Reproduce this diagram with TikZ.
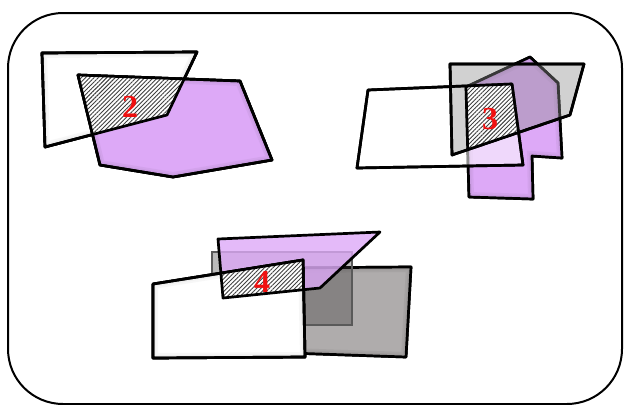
\documentclass[tikz,border=0pt]{standalone}
\usepackage{fontspec}
\usepackage{tikz}
\usetikzlibrary{patterns.meta}
\newfontfamily\numfont{Liberation Serif}
\definecolor{ovPurple}{HTML}{DDA9F7}
\definecolor{ovGray}{HTML}{AFACAC}
\definecolor{ovDark}{HTML}{3A3838}
\definecolor{ovRed}{HTML}{F01010}
\tikzset{
  ovframe/.style={draw, line width=2pt, rounded corners=55pt},
  ovshape/.style={draw, line width=2.7pt, line join=round},
  whitepane/.style={ovshape, fill=white},
  glasspane/.style={ovshape, fill=white, fill opacity=0.55},
  purplepane/.style={ovshape, fill=ovPurple},
  tintpane/.style={ovshape, fill=black!45, fill opacity=0.4},
  graypane/.style={ovshape, fill=ovGray},
  darkpane/.style={draw=black!65, line width=1.2pt, fill=ovDark, fill opacity=0.35},
  hatch/.style={pattern={Lines[angle=45, distance=3pt, line width=0.9pt]}, pattern color=black!75},
  overlap/.style={font=\numfont\bfseries\fontsize{32}{32}\selectfont, text=ovRed, inner sep=0pt}
}
% soft inner edge of a pane, outline drawn again on top
\newcommand{\ovbevel}[2]{%
  \begin{scope}
    \clip #1;
    \draw[line width=10pt, #2, opacity=0.5] #1;
    \draw[line width=6pt, #2] #1;
  \end{scope}
  \draw[ovshape] #1;}
\begin{document}
\begin{tikzpicture}[x=1pt, y=-1pt]
  \useasboundingbox (0,0) rectangle (625,405);
  \draw[ovframe] (8,13) rectangle (622,404);

  % overlap 2
  \def\whiteA{(42,53) -- (197,52) -- (167,115) -- (45,147) -- cycle}
  \def\purpleA{(78,75) -- (240,81) -- (272,160) -- (173,177) -- (100,165) -- cycle}
  \path[whitepane] \whiteA;
  \ovbevel{\whiteA}{black!6}
  \path[purplepane] \purpleA;
  \ovbevel{\purpleA}{ovPurple!92!black}
  \begin{scope}
    \clip \whiteA;
    \fill[white] \purpleA;
    \fill[hatch] \purpleA;
  \end{scope}
  \draw[ovshape] \whiteA;
  \draw[ovshape] \purpleA;
  \node[overlap] (lblTwo) at (130,107) {2};

  % overlap 3
  \def\whiteB{(368,90) -- (512,84) -- (523,165) -- (357,168) -- cycle}
  \def\grayB{(450,64) -- (584,64) -- (570,115) -- (452,155) -- cycle}
  \def\purpleB{(466,87) -- (530,57) -- (558,83) -- (562,158) -- (532,156) -- (533,199) -- (469,197) -- cycle}
  \path[purplepane] \purpleB;
  \ovbevel{\purpleB}{ovPurple!92!black}
  \path[glasspane] \whiteB;
  \path[tintpane] \grayB;
  \begin{scope}
    \clip \whiteB;
    \clip \grayB;
    \fill[white] \purpleB;
    \fill[hatch] \purpleB;
    \draw[ovshape] \purpleB;
  \end{scope}
  \draw[ovshape] \whiteB;
  \draw[ovshape] \grayB;
  \node[overlap] (lblThree) at (490,119) {3};

  % overlap 4
  \def\grayC{(280,268) -- (411,267) -- (406,357) -- (290,353) -- cycle}
  \def\darkC{(212,252) -- (352,252) -- (352,325) -- (212,325) -- cycle}
  \def\purpleC{(218,239) -- (380,232) -- (320,288) -- (223,298) -- cycle}
  \def\whiteC{(153,284) -- (303,260) -- (305,357) -- (153,358) -- cycle}
  \path[graypane] \grayC;
  \ovbevel{\grayC}{ovGray!90!black}
  \path[darkpane] \darkC;
  \path[purplepane, fill opacity=0.8] \purpleC;
  \path[whitepane] \whiteC;
  \ovbevel{\whiteC}{black!6}
  \begin{scope}
    \clip \whiteC;
    \fill[white] \purpleC;
    \fill[hatch] \purpleC;
    \draw[ovshape] \purpleC;
  \end{scope}
  \draw[ovshape] \whiteC;
  \node[overlap] (lblFour) at (262,282) {4};
\end{tikzpicture}
\end{document}
